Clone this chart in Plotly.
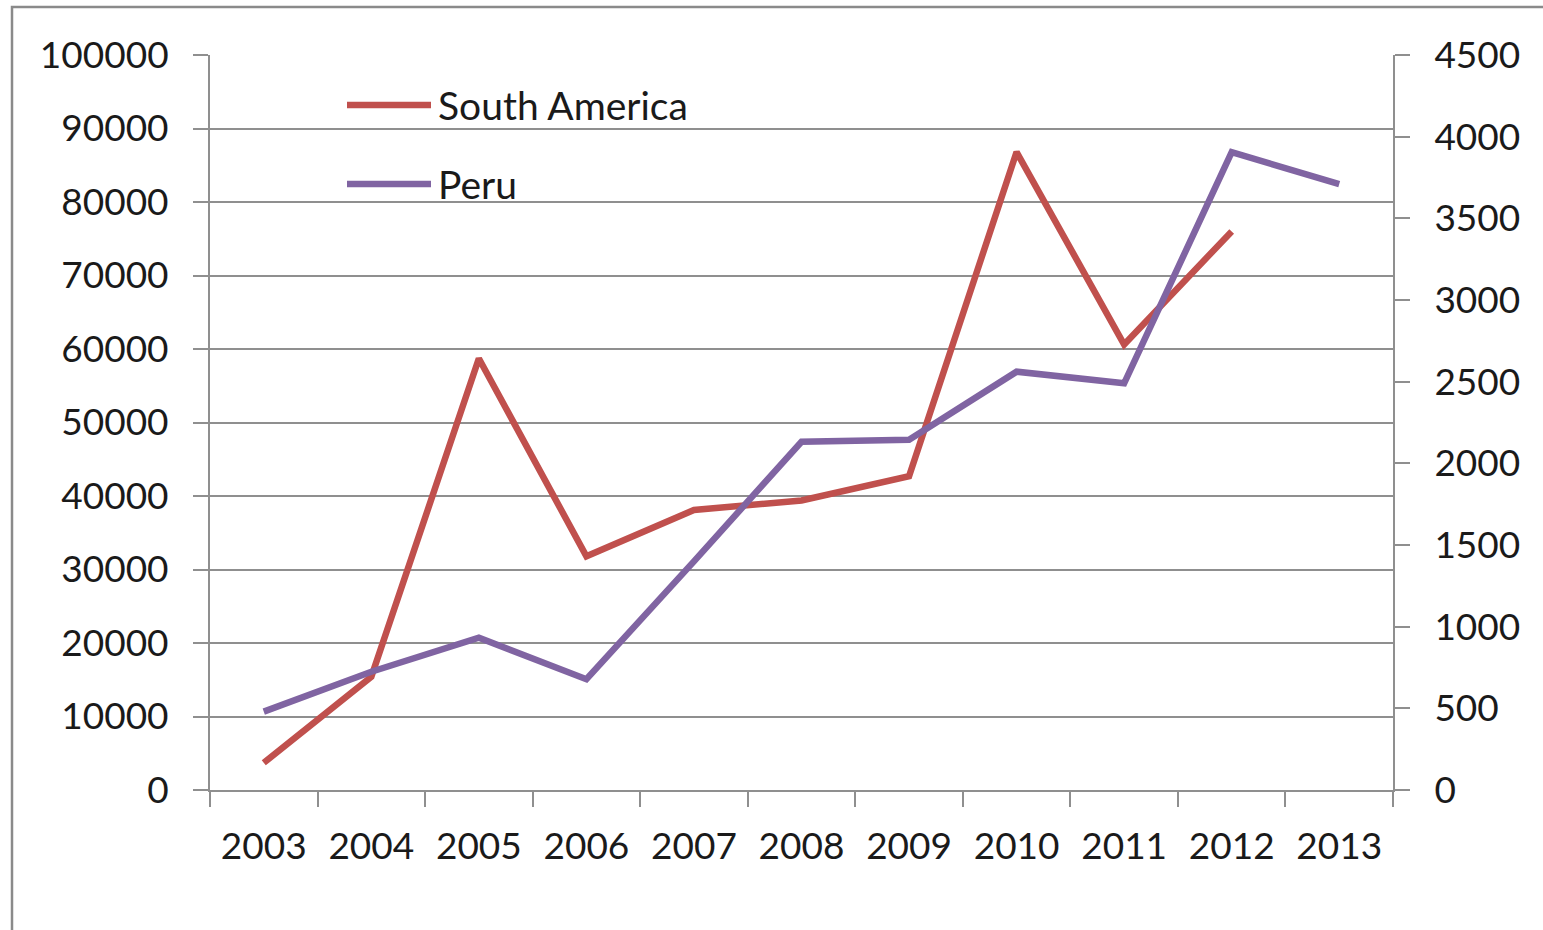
import plotly.graph_objects as go

years = ["2003", "2004", "2005", "2006", "2007", "2008", "2009", "2010", "2011", "2012", "2013"]
south_america = [3700, 15400, 58700, 31800, 38100, 39400, 42700, 86800, 60600, 76000, None]
peru = [480, 724, 932, 678, 1400, 2132, 2145, 2561, 2490, 3905, 3710]

RED = "#C0504D"
PURPLE = "#8064A2"
GRID = "#8f8f8f"
FONT = "Lato"
TICK_FONT = dict(family=FONT, size=37, color="#1a1a1a")

W, H = 1543, 930
ML, MR, MT, MB = 210, 150, 55, 140
PW, PH = W - ML - MR, H - MT - MB


def px(x):
    return (x - ML) / PW


def py(y):
    return (H - MB - y) / PH


fig = go.Figure()
fig.add_trace(go.Scatter(x=years, y=south_america, name="South America", mode="lines",
                         line=dict(color=RED, width=6.5), connectgaps=False))
fig.add_trace(go.Scatter(x=years, y=peru, name="Peru", mode="lines", yaxis="y2",
                         line=dict(color=PURPLE, width=6.5)))

shapes = [
    # outer chart border
    dict(type="rect", xref="paper", yref="paper", x0=px(12), x1=1.3, y0=-0.4, y1=py(7),
         line=dict(color="#8a8a8a", width=2.5), fillcolor="rgba(0,0,0,0)", layer="below"),
]
annotations = []
for name, color, ly in [("South America", RED, 105), ("Peru", PURPLE, 184)]:
    shapes.append(dict(type="line", xref="paper", yref="paper", x0=px(347), x1=px(431),
                       y0=py(ly), y1=py(ly), line=dict(color=color, width=6.5)))
    annotations.append(dict(xref="paper", yref="paper", x=px(436), y=py(ly), text=name,
                            showarrow=False, xanchor="left", yanchor="middle",
                            font=dict(family=FONT, size=39, color="#1a1a1a")))

fig.update_layout(
    width=W, height=H,
    margin=dict(l=ML, r=MR, t=MT, b=MB),
    paper_bgcolor="white", plot_bgcolor="white",
    showlegend=False,
    font=dict(family=FONT, size=37, color="#1a1a1a"),
    shapes=shapes,
    annotations=annotations,
    xaxis=dict(type="category", tickson="boundaries", ticks="outside", ticklen=15,
               tickwidth=2, tickcolor=GRID, showline=True, linecolor=GRID, linewidth=2,
               showgrid=False, range=[-0.5, 10.5], ticklabelstandoff=23,
               tickfont=TICK_FONT),
    yaxis=dict(range=[0, 100000], dtick=10000, tickformat="d", showgrid=True,
               gridcolor=GRID, gridwidth=2, ticks="outside", ticklen=15, tickwidth=2,
               tickcolor=GRID, showline=True, linecolor=GRID, linewidth=2,
               zeroline=False, ticklabelstandoff=17, tickfont=TICK_FONT),
    yaxis2=dict(range=[0, 4500], dtick=500, tickformat="d", overlaying="y", side="right",
                showgrid=False, ticks="outside", ticklen=15, tickwidth=2, tickcolor=GRID,
                showline=True, linecolor=GRID, linewidth=2, zeroline=False,
                ticklabelstandoff=17, tickfont=TICK_FONT),
)

fig.write_html("out.html")
